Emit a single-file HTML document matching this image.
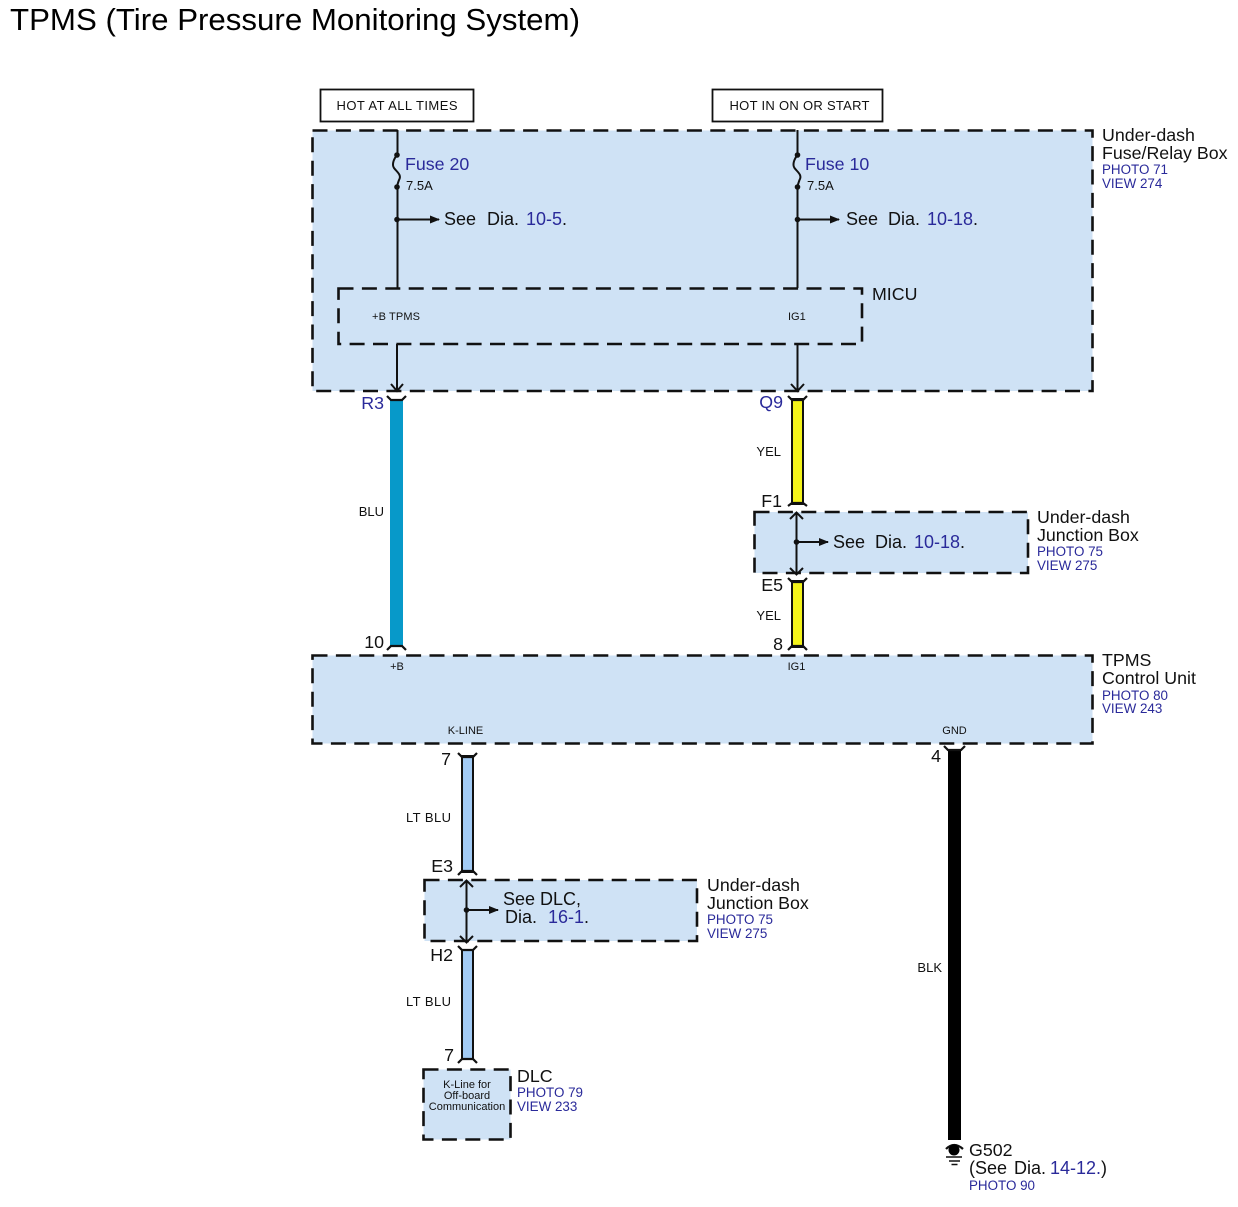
<!DOCTYPE html>
<html><head><meta charset="utf-8"><style>
html,body{margin:0;padding:0;background:#fff}
svg{display:block}
text{font-family:"Liberation Sans",Arial,sans-serif;fill:#111}
.b{fill:#2a2a9a}
.l{font-size:17.8px}
.r{font-size:18px}
.s{font-size:13px}
.x{font-size:11px}
.p{font-size:13.4px;fill:#2a2a9a}
.box{fill:#cfe2f5;stroke:#111;stroke-width:2.6;stroke-dasharray:15 8.4}
.ln{stroke:#111;stroke-width:2;fill:none}
.w{stroke:#111;stroke-width:2}
.c{stroke:#111;stroke-width:2.2;fill:none}
</style></head><body>
<svg width="1238" height="1207" viewBox="0 0 1238 1207" xmlns="http://www.w3.org/2000/svg">
<defs><marker id="a" markerWidth="10" markerHeight="8" refX="9" refY="4" orient="auto" markerUnits="userSpaceOnUse"><path d="M0 0L10 4L0 8z" fill="#111"/></marker></defs>
<rect width="1238" height="1207" fill="#fff"/>
<text x="10" y="30" font-size="31" textLength="570" lengthAdjust="spacingAndGlyphs" fill="#000" style="fill:#000">TPMS (Tire Pressure Monitoring System)</text>

<rect x="320.500" y="89.500" width="153" height="32" fill="#fff" stroke="#111" stroke-width="1.800"/>
<text x="397" y="110" class="s" text-anchor="middle" textLength="121">HOT AT ALL TIMES</text>
<rect x="712.500" y="89.500" width="170" height="32" fill="#fff" stroke="#111" stroke-width="1.800"/>
<text x="799.500" y="110" class="s" text-anchor="middle" textLength="140">HOT IN ON OR START</text>

<rect class="box" x="312.500" y="130.500" width="780" height="260.500"/>
<rect class="box" x="338.500" y="288.500" width="523.500" height="55.500"/>

<path class="ln" d="M397.500 130V155M397.500 187V288"/>
<path class="ln" d="M797.500 130V155M797.500 187V288"/>
<path class="ln" d="M397 155C393 160 392 165 394 168C397 172 402 175 399 180C398 183 397 185 397 188"/>
<path class="ln" d="M797.500 155C793.500 160 792.500 165 794.500 168C797.500 172 802.500 175 799.500 180C798.500 183 797.500 185 797.500 188"/>
<g fill="#111"><circle cx="397" cy="155" r="2.800"/><circle cx="397" cy="187" r="2.800"/><circle cx="397" cy="219.500" r="2.800"/><circle cx="797.500" cy="155" r="2.800"/><circle cx="797.500" cy="187" r="2.800"/><circle cx="797.500" cy="219.500" r="2.800"/></g>
<path class="ln" d="M397 219.500H439" marker-end="url(#a)"/>
<path class="ln" d="M797.500 219.500H839" marker-end="url(#a)"/>
<text x="405" y="170" class="l b">Fuse 20</text>
<text x="406" y="190" class="s">7.5A</text>
<text x="805" y="170" class="l b">Fuse 10</text>
<text x="807" y="190" class="s">7.5A</text>
<text y="225" class="r"><tspan x="444">See</tspan><tspan x="487">Dia.</tspan><tspan x="526" class="b">10-5</tspan>.</text>
<text y="225" class="r"><tspan x="846">See</tspan><tspan x="888">Dia.</tspan><tspan x="927" class="b">10-18</tspan>.</text>
<text x="372" y="320" class="x" textLength="48">+B TPMS</text>
<text x="788" y="320" class="x">IG1</text>
<text x="872" y="300" class="l">MICU</text>

<path class="ln" d="M397 344V390M391 384L397 391L403 384"/>
<path class="ln" d="M797.500 344V390M791 384L797.500 391L804 384"/>

<text x="1102" y="141" class="l">Under-dash</text>
<text x="1102" y="159" class="l">Fuse/Relay Box</text>
<text x="1102" y="174" class="p">PHOTO 71</text>
<text x="1102" y="188" class="p">VIEW 274</text>

<!-- BLU -->
<rect x="390" y="399" width="13" height="248" fill="#0799c9"/>
<path class="c" d="M387 396L391 400H402L406 396M387 650L391 646H402L406 650"/>
<text x="384" y="409" text-anchor="end" class="l b">R3</text>
<text x="384" y="516" text-anchor="end" class="s">BLU</text>
<text x="384" y="648" text-anchor="end" class="l">10</text>

<!-- YEL -->
<rect class="w" x="792" y="399" width="11" height="105" fill="#f4f41a"/>
<path class="c" d="M788 396L792 400H803L807 396M788 506L792 503H803L807 506"/>
<text x="783" y="408" text-anchor="end" class="l b">Q9</text>
<text x="781" y="456" text-anchor="end" class="s">YEL</text>
<text x="782" y="507" text-anchor="end" class="l">F1</text>

<rect class="box" x="754.500" y="512" width="273.500" height="61"/>
<path class="ln" d="M796.500 513V574M790 519L796.500 512.500L803 519M790 568L796.500 574.500L803 568"/>
<circle cx="796.500" cy="542" r="2.800" fill="#111"/>
<path class="ln" d="M796.500 542H828" marker-end="url(#a)"/>
<text y="548" class="r"><tspan x="833">See</tspan><tspan x="875">Dia.</tspan><tspan x="914" class="b">10-18</tspan>.</text>
<text x="1037" y="523" class="l">Under-dash</text>
<text x="1037" y="541" class="l">Junction Box</text>
<text x="1037" y="556" class="p">PHOTO 75</text>
<text x="1037" y="570" class="p">VIEW 275</text>

<rect class="w" x="792" y="581" width="11" height="66" fill="#f4f41a"/>
<path class="c" d="M788 578L792 582H803L807 578M788 650L792 646H803L807 650"/>
<text x="783" y="591" text-anchor="end" class="l">E5</text>
<text x="781" y="620" text-anchor="end" class="s">YEL</text>
<text x="783" y="650" text-anchor="end" class="l">8</text>

<!-- TPMS -->
<rect class="box" x="312.500" y="655.500" width="780" height="88"/>
<text x="397" y="670" text-anchor="middle" class="x">+B</text>
<text x="796.500" y="670" text-anchor="middle" class="x">IG1</text>
<text x="465.500" y="734" text-anchor="middle" class="x">K-LINE</text>
<text x="954.500" y="734" text-anchor="middle" class="x">GND</text>
<text x="1102" y="666" class="l">TPMS</text>
<text x="1102" y="684" class="l">Control Unit</text>
<text x="1102" y="700" class="p">PHOTO 80</text>
<text x="1102" y="713" class="p">VIEW 243</text>

<!-- LT BLU -->
<rect class="w" x="462" y="756" width="11" height="116" fill="#a2cbf5"/>
<path class="c" d="M458 753L462 757H473L477 753M458 875L462 871H473L477 875"/>
<text x="451" y="765" text-anchor="end" class="l">7</text>
<text x="451" y="822" text-anchor="end" class="s" textLength="45">LT BLU</text>
<text x="453" y="872" text-anchor="end" class="l">E3</text>

<rect class="box" x="424.500" y="880" width="272.500" height="61"/>
<path class="ln" d="M466.500 881V942M460 887L466.500 880.500L473 887M460 936L466.500 942.500L473 936"/>
<circle cx="466.500" cy="910" r="2.800" fill="#111"/>
<path class="ln" d="M466.500 910H498" marker-end="url(#a)"/>
<text x="503" y="905" class="r">See DLC,</text>
<text y="923" class="r"><tspan x="505">Dia.</tspan><tspan x="548" class="b">16-1</tspan>.</text>
<text x="707" y="891" class="l">Under-dash</text>
<text x="707" y="909" class="l">Junction Box</text>
<text x="707" y="924" class="p">PHOTO 75</text>
<text x="707" y="938" class="p">VIEW 275</text>

<rect class="w" x="462" y="950" width="11" height="109" fill="#a2cbf5"/>
<path class="c" d="M458 946L462 950H473L477 946M458 1063L462 1059H473L477 1063"/>
<text x="453" y="961" text-anchor="end" class="l">H2</text>
<text x="451" y="1006" text-anchor="end" class="s" textLength="45">LT BLU</text>
<text x="454" y="1061" text-anchor="end" class="l">7</text>

<!-- DLC -->
<rect x="423.500" y="1069.500" width="87" height="70" fill="#cfe2f5" stroke="#111" stroke-width="2.600" stroke-dasharray="15 8.400"/>
<text x="467" y="1088" text-anchor="middle" class="x">K-Line for</text>
<text x="467" y="1099" text-anchor="middle" class="x">Off-board</text>
<text x="467" y="1110" text-anchor="middle" class="x">Communication</text>
<text x="517" y="1082" class="l">DLC</text>
<text x="517" y="1097" class="p">PHOTO 79</text>
<text x="517" y="1111" class="p">VIEW 233</text>

<!-- BLK -->
<rect x="948" y="750" width="13" height="390" fill="#000"/>
<path class="c" d="M944 746L948 750H961L965 746"/>
<text x="941" y="762" text-anchor="end" class="l">4</text>
<text x="942" y="972" text-anchor="end" class="s">BLK</text>
<path class="c" d="M946 1149Q954 1141 963 1149"/>
<circle cx="954" cy="1150" r="5.500" fill="#000"/>
<path d="M946 1157H962M949 1161H960M951.500 1164.500H957.500" stroke="#111" stroke-width="1.500" fill="none"/>
<text x="969" y="1156" class="l">G502</text>
<text y="1174" class="r"><tspan x="969">(See</tspan><tspan x="1014">Dia.</tspan><tspan x="1050" class="b">14-12.</tspan>)</text>
<text x="969" y="1190" class="p">PHOTO 90</text>
</svg>
</body></html>
